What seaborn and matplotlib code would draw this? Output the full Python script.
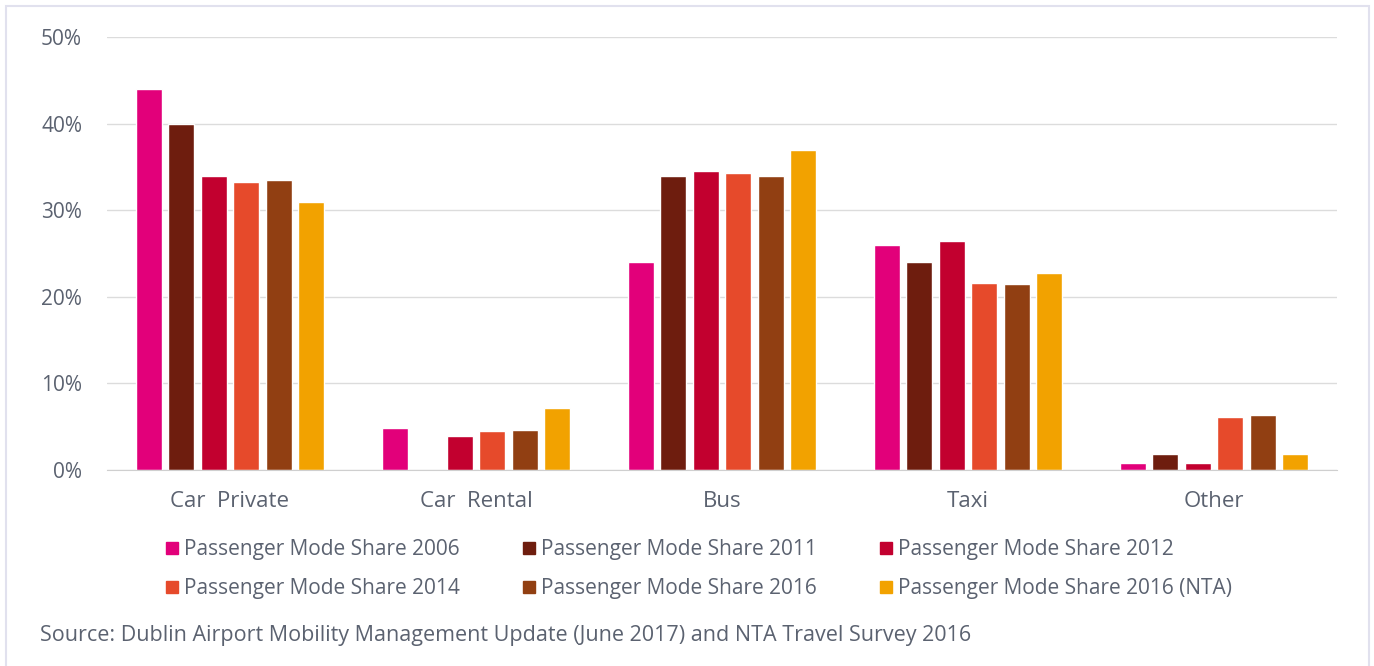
import numpy as np
import pandas as pd
import matplotlib
matplotlib.use("Agg")
import matplotlib.pyplot as plt
from matplotlib.lines import Line2D
from matplotlib.patches import Rectangle
from matplotlib.ticker import FuncFormatter
import seaborn as sns

### Data (percent)
categories = ["Car  Private", "Car  Rental", "Bus", "Taxi", "Other"]
series = ["Passenger Mode Share 2006", "Passenger Mode Share 2011",
          "Passenger Mode Share 2012", "Passenger Mode Share 2014",
          "Passenger Mode Share 2016", "Passenger Mode Share 2016 (NTA)"]
share_2006 = [44.0, 4.9, 24.0, 26.0, 0.8]
share_2011 = [40.0, np.nan, 34.0, 24.0, 1.9]
share_2012 = [34.0, 3.9, 34.5, 26.5, 0.8]
share_2014 = [33.3, 4.5, 34.3, 21.6, 6.1]
share_2016 = [33.5, 4.6, 34.0, 21.5, 6.3]
share_2016_nta = [31.0, 7.2, 37.0, 22.8, 1.9]
colors = ["#E2007A", "#6E1D0E", "#C2002F", "#E64A2B", "#913F12", "#F2A200"]

values = [share_2006, share_2011, share_2012, share_2014, share_2016, share_2016_nta]
rows = []
for s, vals in zip(series, values):
    for c, v in zip(categories, vals):
        rows.append({"mode": c, "series": s, "share": v})
df = pd.DataFrame(rows)

### Plot
sns.set_style("white")
plt.rcParams["font.family"] = ["Open Sans", "DejaVu Sans"]
text_col = "#5B6270"

fig = plt.figure(figsize=(13.74, 6.66), dpi=100)
ax = fig.add_axes([107 / 1374, 1 - 470 / 666, 1230 / 1374, 433 / 666])

sns.barplot(data=df, x="mode", y="share", hue="series", order=categories,
            hue_order=series, palette=colors, width=0.79, gap=0.2,
            saturation=1, errorbar=None, legend=False, ax=ax)

ax.set_ylim(0, 50)
ax.set_xlim(-0.5, 4.5)
ax.set_yticks(range(0, 51, 10))
ax.yaxis.set_major_formatter(FuncFormatter(lambda v, p: f"{v:.0f}%"))
ax.grid(axis="y", color="#DCDCDC", linewidth=1)
ax.set_axisbelow(True)
for side in ["top", "right", "left"]:
    ax.spines[side].set_visible(False)
ax.spines["bottom"].set_color("#CFCFCF")
ax.tick_params(axis="both", length=0, labelsize=15, colors=text_col)
ax.tick_params(axis="y", pad=18)
ax.tick_params(axis="x", pad=15)
for lab in ax.get_xticklabels():
    lab.set_fontsize(16)
ax.set_xlabel("")
ax.set_ylabel("")

# legend, row-wise order like the reference
handles = [Line2D([], [], marker="s", linestyle="", markersize=9,
                  color=c) for c in colors]
order = [0, 3, 1, 4, 2, 5]
fig.legend([handles[i] for i in order], [series[i] for i in order],
           ncol=3, loc="upper left", bbox_to_anchor=(155 / 1374, 1 - 529 / 666),
           frameon=False, fontsize=15, labelcolor=text_col,
           handlelength=0.6, handletextpad=0.3, columnspacing=3.0,
           labelspacing=0.85, borderpad=0)

fig.text(40 / 1374, 1 - 635 / 666, "Source: Dublin Airport Mobility Management Update (June 2017) and NTA Travel Survey 2016",
         fontsize=15.5, color=text_col, va="center", ha="left")

# light frame around the figure
fig.add_artist(Rectangle((6 / 1374, -0.05), 1363 / 1374, 1.05 - 6 / 666,
                         transform=fig.transFigure, fill=False,
                         edgecolor="#E1E1EE", linewidth=1.5))

fig.savefig("out.png", dpi=100, facecolor="white")
